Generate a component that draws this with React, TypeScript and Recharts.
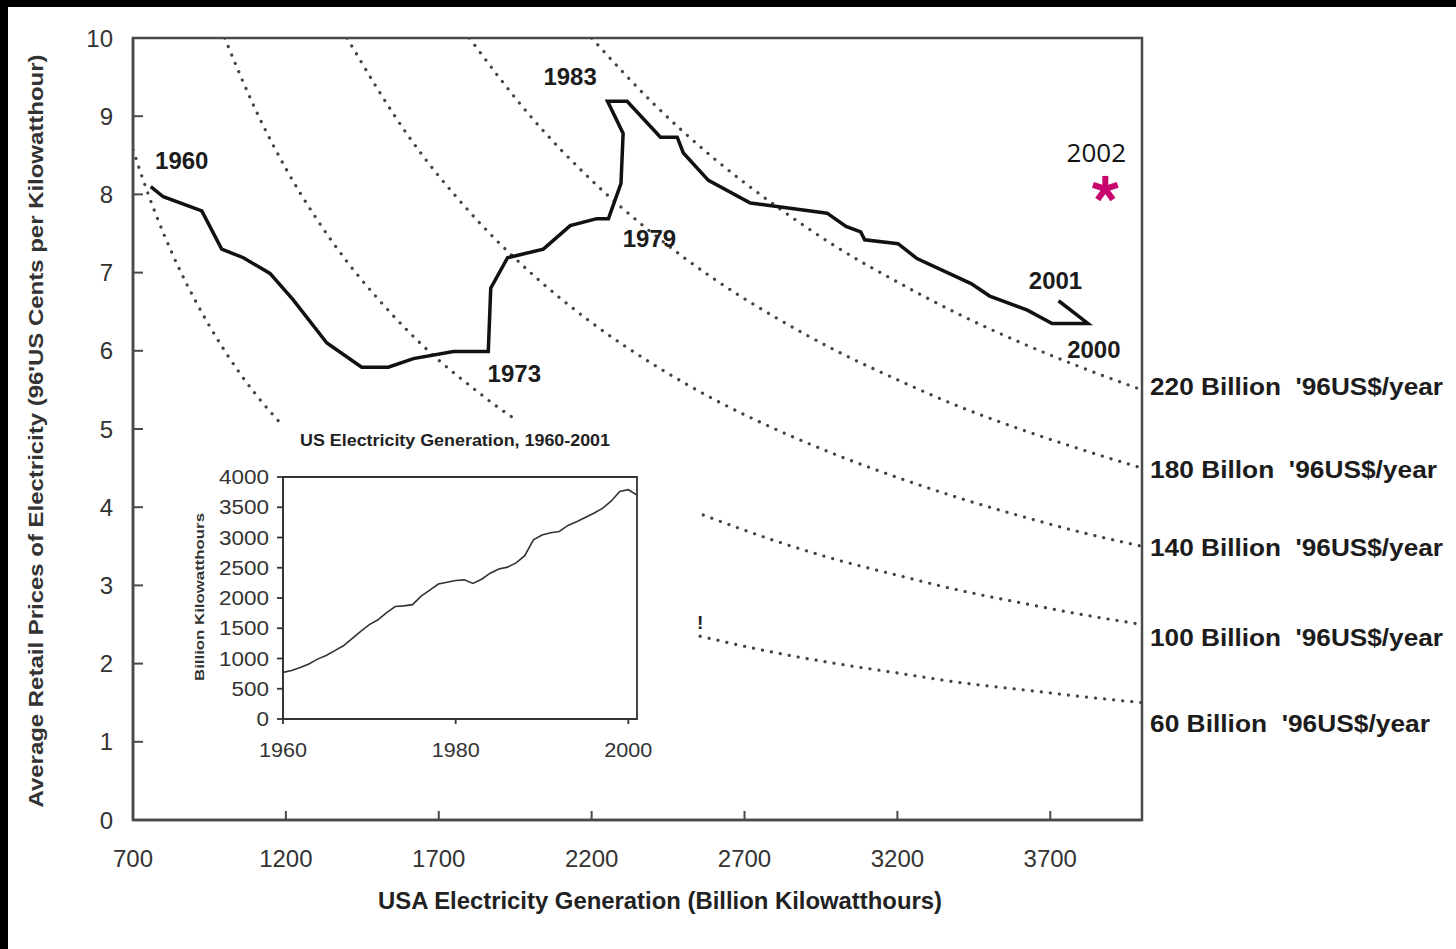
import React from 'react';
import { ComposedChart, Line, Scatter, XAxis, YAxis, ReferenceArea, LabelList } from 'recharts';

const FONT = '"Liberation Sans", Arial, Helvetica, sans-serif';
const AXIS = '#4a4a4a';
const MAGENTA = '#c8066e';

// ---------- main chart ----------
const generationTicks = [700, 1200, 1700, 2200, 2700, 3200, 3700];
const priceTicks = [0, 1, 2, 3, 4, 5, 6, 7, 8, 9, 10];

// price / generation path 1960-2001 (billion kWh, '96 US cents per kWh)
const pathGeneration = [758, 799, 925, 990, 1061, 1148, 1224, 1334, 1448, 1535, 1617, 1748, 1862, 1870, 1925, 2042, 2130, 2217, 2255, 2296, 2303, 2252, 2316, 2425, 2480, 2500, 2582, 2719, 2855, 2970, 3032, 3080, 3093, 3202, 3264, 3441, 3502, 3625, 3706, 3823, 3727];
const pathPrice = [8.1, 7.97, 7.79, 7.3, 7.19, 6.99, 6.65, 6.1, 5.79, 5.79, 5.9, 5.99, 5.99, 6.8, 7.19, 7.3, 7.6, 7.69, 7.69, 8.14, 8.78, 9.19, 9.19, 8.73, 8.73, 8.53, 8.18, 7.89, 7.82, 7.76, 7.59, 7.52, 7.42, 7.37, 7.18, 6.86, 6.7, 6.52, 6.35, 6.35, 6.64];
const yearLabelIndex = [0, 12, 18, 22, 39, 40];
const yearLabelText = ['1960', '1973', '1979', '1983', '2000', '2001'];

// iso-expenditure curves
const isoNames = ["220 Billion  '96US$/year", "180 Billon  '96US$/year", "140 Billion  '96US$/year", "100 Billion  '96US$/year", "60 Billion  '96US$/year"];
const iso220Generation = [2200, 2400, 2600, 2800, 3000, 3200, 3400, 3600, 3800, 4000];
const iso220Price = [10.0, 9.17, 8.46, 7.86, 7.33, 6.88, 6.47, 6.11, 5.79, 5.5];
const iso180Generation = [1800, 2000, 2200, 2400, 2600, 2800, 3000, 3200, 3400, 3600, 3800, 4000];
const iso180Price = [10.0, 9.0, 8.18, 7.5, 6.92, 6.43, 6.0, 5.63, 5.29, 5.0, 4.74, 4.5];
const iso140Generation = [1400, 1600, 1800, 2000, 2200, 2400, 2600, 2800, 3000, 3200, 3400, 3600, 3800, 4000];
const iso140Price = [10.0, 8.75, 7.78, 7.0, 6.36, 5.83, 5.38, 5.0, 4.67, 4.38, 4.12, 3.89, 3.68, 3.5];
const iso100Generation = [1000, 1100, 1200, 1300, 1400, 1500, 1600, 1700, 1800, 1900, 1956, 2260, 2565, 2800, 3000, 3200, 3400, 3600, 3800, 4000];
const iso100Price = [10.0, 9.09, 8.33, 7.69, 7.14, 6.67, 6.25, 5.88, 5.56, 5.26, 5.11, null, 3.9, 3.57, 3.33, 3.13, 2.94, 2.78, 2.63, 2.5];
const iso60Generation = [700, 750, 800, 850, 900, 950, 1000, 1050, 1100, 1181, 1800, 2555, 2800, 3000, 3200, 3400, 3600, 3800, 4000];
const iso60Price = [8.57, 8.0, 7.5, 7.06, 6.67, 6.32, 6.0, 5.71, 5.45, 5.08, null, 2.35, 2.14, 2.0, 1.88, 1.76, 1.67, 1.58, 1.5];

const point2002 = [{ x: 3880, y: 8.07, label: '2002' }];
const stray = [{ x: 2555, y: 2.52, label: '!' }];

// ---------- inset ----------
const insetYears = [1960, 1961, 1962, 1963, 1964, 1965, 1966, 1967, 1968, 1969, 1970, 1971, 1972, 1973, 1974, 1975, 1976, 1977, 1978, 1979, 1980, 1981, 1982, 1983, 1984, 1985, 1986, 1987, 1988, 1989, 1990, 1991, 1992, 1993, 1994, 1995, 1996, 1997, 1998, 1999, 2000, 2001];
const insetGeneration = [770, 800, 850, 910, 990, 1050, 1130, 1210, 1330, 1450, 1560, 1640, 1760, 1860, 1870, 1890, 2030, 2130, 2230, 2260, 2290, 2300, 2240, 2310, 2410, 2480, 2510, 2580, 2700, 2960, 3040, 3080, 3100, 3200, 3260, 3330, 3400, 3480, 3600, 3760, 3790, 3700];
const insetYearTicks = [1960, 1980, 2000];
const insetGenTicks = [0, 500, 1000, 1500, 2000, 2500, 3000, 3500, 4000];

// ---------- built tables ----------
const pathData = pathGeneration.map((x, i) => {
  const k = yearLabelIndex.indexOf(i);
  return { x, y: pathPrice[i], label: k >= 0 ? yearLabelText[k] : null };
});
const mk = (gens: number[], prices: (number | null)[], name: string) =>
  gens.map((x, i) => ({ x, y: prices[i], name: i === gens.length - 1 ? name : null }));
const isoSeries = [
  mk(iso220Generation, iso220Price, isoNames[0]),
  mk(iso180Generation, iso180Price, isoNames[1]),
  mk(iso140Generation, iso140Price, isoNames[2]),
  mk(iso100Generation, iso100Price, isoNames[3]),
  mk(iso60Generation, iso60Price, isoNames[4]),
];
const insetData = insetYears.map((year, i) => ({ year, gen: insetGeneration[i] }));

// ---------- styles ----------
const yearLabelOffset: Record<string, [number, number]> = {
  '1960': [31, -26],
  '1973': [26, 22],
  '1979': [41, 20],
  '1983': [-57, -25],
  '2000': [6, 26],
  '2001': [-3, -20],
};
const isoLabelDy = [-3, 2, 2, 13, 21];
const isoLabelWidth = [293, 287, 293, 293, 280];

const pt = (props: any) => {
  const vb = props.viewBox || {};
  return { x: props.x ?? vb.x, y: props.y ?? vb.y };
};

const renderYearLabel = (props: any) => {
  const { value } = props;
  if (value == null || !yearLabelOffset[value]) return null;
  const { x, y } = pt(props);
  const [dx, dy] = yearLabelOffset[value];
  return (
    <text x={x + dx} y={y + dy} textAnchor="middle" dominantBaseline="central" fontFamily={FONT} fontSize={24} fontWeight="bold" fill="#1c1c1c">
      {value}
    </text>
  );
};

const makeIsoLabel = (idx: number) => (props: any) => {
  const { value } = props;
  if (value == null) return null;
  const { x, y } = pt(props);
  return (
    <text x={x + 8} y={y + isoLabelDy[idx]} dominantBaseline="central" fontFamily={FONT} fontSize={23} fontWeight="bold" fill="#1c1c1c" style={{ whiteSpace: 'pre' }} textLength={isoLabelWidth[idx]} lengthAdjust="spacingAndGlyphs">
      {value}
    </text>
  );
};

const MainXTick = (props: any) => {
  const { x, y, payload } = props;
  return (
    <g>
      <line x1={x} x2={x} y1={y} y2={y - 9} stroke={AXIS} strokeWidth={2} />
      <text x={x} y={y + 38} textAnchor="middle" dominantBaseline="central" fontFamily={FONT} fontSize={24} fill="#333">
        {payload.value}
      </text>
    </g>
  );
};

const MainYTick = (props: any) => {
  const { x, y, payload } = props;
  return (
    <g>
      <line x1={x} x2={x + 10} y1={y} y2={y} stroke={AXIS} strokeWidth={2} />
      <text x={x - 20} y={y} textAnchor="end" dominantBaseline="central" fontFamily={FONT} fontSize={24} fill="#333">
        {payload.value}
      </text>
    </g>
  );
};

const renderXTitle = (props: any) => {
  const vb = props.viewBox;
  return (
    <text x={vb.x + 527} y={vb.y + 81} textAnchor="middle" dominantBaseline="central" fontFamily={FONT} fontSize={23} fontWeight="bold" fill="#222" textLength={564} lengthAdjust="spacingAndGlyphs">
      USA Electricity Generation (Billion Kilowatthours)
    </text>
  );
};

const renderYTitle = (props: any) => {
  const vb = props.viewBox;
  const cx = vb.x - 37;
  const cy = vb.y + vb.height / 2 + 2;
  return (
    <text x={cx} y={cy} transform={`rotate(-90 ${cx} ${cy})`} textAnchor="middle" dominantBaseline="central" fontFamily={FONT} fontSize={20} fontWeight="bold" fill="#333" textLength={753} lengthAdjust="spacingAndGlyphs">
      Average Retail Prices of Electricity (96'US Cents per Kilowatthour)
    </text>
  );
};

const StarShape = (props: any) => {
  const { cx, cy, payload } = props;
  const arms = [-90, -18, 54, 126, 198];
  const len = 13;
  return (
    <g>
      {arms.map((a) => {
        const r = (a * Math.PI) / 180;
        return <line key={a} x1={cx} y1={cy} x2={cx + len * Math.cos(r)} y2={cy + len * Math.sin(r)} stroke={MAGENTA} strokeWidth={6} />;
      })}
      <text x={cx - 9} y={cy - 37} textAnchor="middle" dominantBaseline="central" fontFamily='"Open Sans", "Noto Sans", sans-serif' fontSize={26} fill="#111">
        {payload.label}
      </text>
    </g>
  );
};

const StrayShape = (props: any) => {
  const { cx, cy, payload } = props;
  return (
    <text x={cx} y={cy} textAnchor="middle" dominantBaseline="central" fontFamily={FONT} fontSize={19} fontWeight="bold" fill="#222">
      {payload.label}
    </text>
  );
};

// ---------- inset ticks ----------
const InsetXTick = (props: any) => {
  const { x, y, payload } = props;
  return (
    <g>
      <line x1={x} x2={x} y1={y} y2={y + 5} stroke="#333" strokeWidth={1.8} />
      <text x={x} y={y + 31} textAnchor="middle" dominantBaseline="central" fontFamily={FONT} fontSize={20} fill="#333" textLength={48} lengthAdjust="spacingAndGlyphs">
        {payload.value}
      </text>
    </g>
  );
};

const InsetYTick = (props: any) => {
  const { x, y, payload } = props;
  const len = String(payload.value).length * 12.5;
  return (
    <g>
      <line x1={x - 6} x2={x} y1={y} y2={y} stroke="#333" strokeWidth={1.8} />
      <text x={x - 14} y={y} textAnchor="end" dominantBaseline="central" fontFamily={FONT} fontSize={20} fill="#333" textLength={len} lengthAdjust="spacingAndGlyphs">
        {payload.value}
      </text>
    </g>
  );
};

const renderInsetTitle = (props: any) => {
  const vb = props.viewBox;
  return (
    <text x={vb.x + vb.width / 2 - 5} y={vb.y - 37} textAnchor="middle" dominantBaseline="central" fontFamily={FONT} fontSize={16} fontWeight="bold" fill="#222" textLength={310} lengthAdjust="spacingAndGlyphs">
      US Electricity Generation, 1960-2001
    </text>
  );
};

const renderInsetYTitle = (props: any) => {
  const vb = props.viewBox;
  const cx = vb.x - 24;
  const cy = vb.y + vb.height / 2 - 1;
  return (
    <text x={cx} y={cy} transform={`rotate(-90 ${cx} ${cy})`} textAnchor="middle" dominantBaseline="central" fontFamily={FONT} fontSize={13} fontWeight="bold" fill="#333" textLength={168} lengthAdjust="spacingAndGlyphs">
      Billion Kilowatthours
    </text>
  );
};

export default function App() {
  return (
    <div style={{ position: 'absolute', left: 0, top: 0, width: 1456, height: 949, background: '#000', overflow: 'hidden' }}>
      <div style={{ position: 'absolute', left: 8, top: 7, width: 1448, height: 942, background: '#fff' }} />
      <div style={{ position: 'absolute', left: 0, top: 0 }}>
        <ComposedChart width={1456} height={949} margin={{ top: 38, right: 314, left: 73, bottom: 69 }}>
          <XAxis
            dataKey="x"
            type="number"
            domain={[700, 4000]}
            ticks={generationTicks}
            interval={0}
            allowDataOverflow
            height={60}
            tickSize={0}
            tickMargin={0}
            tickLine={false}
            tick={<MainXTick />}
            axisLine={{ stroke: AXIS, strokeWidth: 2.5 }}
            label={{ content: renderXTitle }}
          />
          <YAxis
            type="number"
            domain={[0, 10]}
            ticks={priceTicks}
            interval={0}
            allowDataOverflow
            width={60}
            tickSize={0}
            tickMargin={0}
            tickLine={false}
            tick={<MainYTick />}
            axisLine={{ stroke: AXIS, strokeWidth: 2.5 }}
            label={{ content: renderYTitle }}
          />
          <ReferenceArea x1={700} x2={4000} y1={0} y2={10} fill="none" fillOpacity={0} stroke={AXIS} strokeWidth={2.5} />
          {isoSeries.map((data, idx) => (
            <Line
              key={idx}
              data={data}
              dataKey="y"
              type="monotone"
              stroke="#444"
              strokeWidth={3.2}
              strokeDasharray="0.1 9"
              strokeLinecap="round"
              dot={false}
              activeDot={false}
              connectNulls={false}
              isAnimationActive={false}
            >
              <LabelList dataKey="name" content={makeIsoLabel(idx)} />
            </Line>
          ))}
          <Line
            data={pathData}
            dataKey="y"
            type="linear"
            stroke="#111"
            strokeWidth={3.5}
            dot={false}
            activeDot={false}
            isAnimationActive={false}
          >
            <LabelList dataKey="label" content={renderYearLabel} />
          </Line>
          <Scatter data={point2002} dataKey="y" shape={(p: any) => <StarShape {...p} />} isAnimationActive={false} />
          <Scatter data={stray} dataKey="y" shape={(p: any) => <StrayShape {...p} />} isAnimationActive={false} />
        </ComposedChart>
      </div>
      <div style={{ position: 'absolute', left: 180, top: 420 }}>
        <ComposedChart width={520} height={350} data={insetData} margin={{ top: 57, right: 63, left: 43, bottom: 21 }}>
          <XAxis
            dataKey="year"
            type="number"
            domain={[1960, 2001]}
            ticks={insetYearTicks}
            interval={0}
            allowDataOverflow
            height={30}
            tickSize={0}
            tickMargin={0}
            tickLine={false}
            tick={<InsetXTick />}
            axisLine={{ stroke: '#333', strokeWidth: 1.8 }}
          />
          <YAxis
            type="number"
            domain={[0, 4000]}
            ticks={insetGenTicks}
            interval={0}
            allowDataOverflow
            width={60}
            tickSize={0}
            tickMargin={0}
            tickLine={false}
            tick={<InsetYTick />}
            axisLine={{ stroke: '#333', strokeWidth: 1.8 }}
            label={{ content: renderInsetYTitle }}
          />
          <ReferenceArea x1={1960} x2={2001} y1={0} y2={4000} fill="none" fillOpacity={0} stroke="#333" strokeWidth={1.8} label={{ content: renderInsetTitle }} />
          <Line dataKey="gen" type="linear" stroke="#333" strokeWidth={1.6} dot={false} activeDot={false} isAnimationActive={false} />
        </ComposedChart>
      </div>
    </div>
  );
}
